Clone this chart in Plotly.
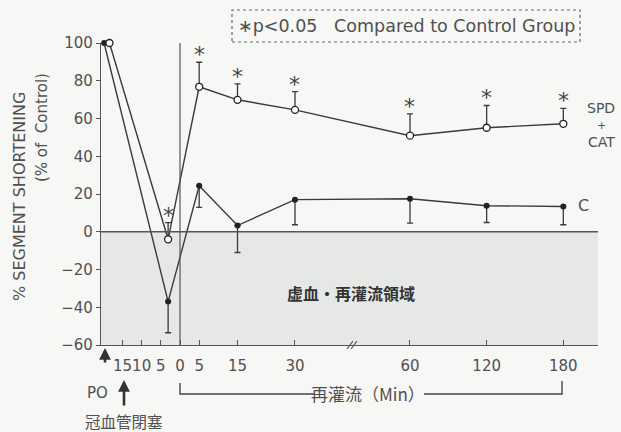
import plotly.graph_objects as go

# ---- data -------------------------------------------------------------
# time points: PO (pre-occlusion), end of occlusion, then reperfusion minutes
time_c = [-19.8, -3.1, 5, 15, 30, 60, 120, 180]
time_spd = [-18.4, -3.1, 5, 15, 30, 60, 120, 180]

spd_cat = [100, -4, 76.8, 69.9, 64.6, 50.9, 55.1, 57.2]
spd_cat_err = [0, 8.8, 13.0, 8.4, 9.6, 11.5, 11.8, 8.2]

control = [100, -37, 24.4, 3.3, 17.0, 17.5, 13.8, 13.4]
control_err = [0, 16.5, 11.5, 14.3, 13.3, 12.9, 8.9, 9.7]

# points marked significant (p<0.05) for SPD+CAT
sig_index = [1, 2, 3, 4, 5, 6, 7]

tick_minutes = [-15, -10, -5, 0, 5, 15, 30, 60, 120, 180]
tick_text = ["15", "10", "5", "0", "5", "15", "30", "60", "120", "180"]

y_ticks = [-60, -40, -20, 0, 20, 40, 60, 80, 100]


def to_axis(t):
    """Axis position: linear up to 60 min, compressed 3x beyond the break."""
    return t if t <= 60 else 60 + (t - 60) / 3.0


# ---- layout geometry (pixels) -----------------------------------------
W, H = 621, 432
L, R, T, B = 101, 598, 43, 345
X_RANGE = [-20.61, 109.05]
Y_RANGE = [-60, 100]


def px(x):
    return (x - L) / (R - L)


def py(y):
    return (B - y) / (B - T)


LINE = "#3a3a3a"
TEXT = "#505050"
FONT = "DejaVu Sans"
JP = "Noto Sans CJK JP"


def label(x, y, text, size, family=FONT, color=TEXT, **kw):
    """Free text placed in pixel coordinates, centred on (x, y)."""
    d = dict(x=px(x), y=py(y), xref="paper", yref="paper", text=text,
             showarrow=False, xanchor="center", yanchor="middle",
             font=dict(family=family, size=size, color=color))
    d.update(kw)
    return d


fig = go.Figure()

# shaded ischemia / reperfusion region (below 0 %)
fig.add_shape(type="rect", xref="x", yref="y", x0=X_RANGE[0], x1=X_RANGE[1],
              y0=-60, y1=0, fillcolor="#e5e8e5", line_width=0, layer="below")

# zero line
fig.add_shape(type="line", xref="x", yref="y", x0=X_RANGE[0], x1=X_RANGE[1],
              y0=0, y1=0, line=dict(color="#555", width=1.4))

# reperfusion start line
fig.add_shape(type="line", xref="x", yref="y", x0=0, x1=0, y0=-60, y1=100,
              line=dict(color="#555", width=1.2))

# control group (filled circles, downward error bars)
fig.add_trace(go.Scatter(
    x=[to_axis(t) for t in time_c], y=control, mode="lines+markers",
    line=dict(color=LINE, width=1.4),
    marker=dict(symbol="circle", size=6, color="#222"),
    error_y=dict(type="data", symmetric=False, array=[0] * len(control_err),
                 arrayminus=control_err, color=LINE, thickness=1.3, width=3),
    cliponaxis=False, showlegend=False))

# SPD + CAT group (open circles, upward error bars)
fig.add_trace(go.Scatter(
    x=[to_axis(t) for t in time_spd], y=spd_cat, mode="lines+markers",
    line=dict(color=LINE, width=1.4),
    marker=dict(symbol="circle", size=7, color="white",
                line=dict(color="#222", width=1.3)),
    error_y=dict(type="data", symmetric=False, array=spd_cat_err,
                 arrayminus=[0] * len(spd_cat_err), color=LINE, thickness=1.3, width=3),
    cliponaxis=False, showlegend=False))

annotations = []

# significance asterisks above SPD+CAT error bars
for i in sig_index:
    annotations.append(dict(
        x=to_axis(time_spd[i]), y=spd_cat[i] + spd_cat_err[i], xref="x", yref="y",
        text="*", showarrow=False, xanchor="center", yanchor="bottom", yshift=-7,
        font=dict(family=FONT, size=22, color="#444")))

# legend box
annotations.append(label(406, 26, "∗p<0.05&nbsp;&nbsp; Compared to Control Group", 17.5))
fig.add_shape(type="rect", xref="paper", yref="paper",
              x0=px(232), x1=px(580), y0=py(42), y1=py(10),
              line=dict(color="#666", width=1.2, dash="dot"))

# series labels
annotations += [
    label(601, 108, "SPD", 14),
    label(601, 125, "+", 11),
    label(601, 142, "CAT", 14),
    label(583, 205, "C", 16),
]

# region label
annotations.append(label(351, 293, "<b>虚血・再灌流領域</b>", 16, family=JP, color="#333"))

# y axis title (two lines)
annotations += [
    label(20, 197, "% SEGMENT SHORTENING", 16, textangle=-90),
    label(42, 128, "(% of&nbsp; Control)", 15, textangle=-90),
]

# PO marker and occlusion arrows
annotations += [
    dict(x=px(105), y=py(348), ax=0, ay=16, xref="paper", yref="paper", text="",
         showarrow=True, arrowhead=2, arrowsize=0.9, arrowwidth=2.6, arrowcolor="#333"),
    label(97, 393, "PO", 15),
    dict(x=px(124), y=py(380), ax=0, ay=27, xref="paper", yref="paper", text="",
         showarrow=True, arrowhead=2, arrowsize=0.9, arrowwidth=2.6, arrowcolor="#333"),
    label(124, 421, "冠血管閉塞", 15.5, family=JP),
]

# reperfusion bracket
annotations.append(label(368, 393, "再灌流（Min）", 17, family=JP))
fig.add_shape(type="path", xref="paper", yref="paper",
              path=f"M {px(180)},{py(383)} L {px(180)},{py(394)} L {px(314)},{py(394)}",
              line=dict(color="#444", width=1.4))
fig.add_shape(type="path", xref="paper", yref="paper",
              path=f"M {px(424)},{py(394)} L {px(562)},{py(394)} L {px(562)},{py(381)}",
              line=dict(color="#444", width=1.4))

# axis break mark
for dx in (-2, 2):
    fig.add_shape(type="line", xref="paper", yref="paper",
                  x0=px(349 + dx), x1=px(355 + dx), y0=py(349), y1=py(341),
                  line=dict(color="#555", width=1.2))

fig.update_layout(
    width=W, height=H,
    margin=dict(l=L, r=W - R, t=T, b=H - B),
    paper_bgcolor="#f7f7f5", plot_bgcolor="rgba(0,0,0,0)",
    annotations=annotations,
    xaxis=dict(range=X_RANGE, showgrid=False, zeroline=False,
               showline=True, linecolor="#555", linewidth=1.4,
               tickmode="array", tickvals=[to_axis(t) for t in tick_minutes],
               ticktext=tick_text, tickangle=0, ticks="inside", ticklen=5,
               tickcolor="#555", ticklabelstandoff=7,
               tickfont=dict(family=FONT, size=15, color=TEXT)),
    yaxis=dict(range=Y_RANGE, showgrid=False, zeroline=False,
               showline=True, linecolor="#555", linewidth=1.4,
               tickmode="array", tickvals=y_ticks,
               ticks="outside", ticklen=4, tickcolor="#555",
               tickfont=dict(family=FONT, size=15, color=TEXT)),
)

fig.write_html("out.html")
